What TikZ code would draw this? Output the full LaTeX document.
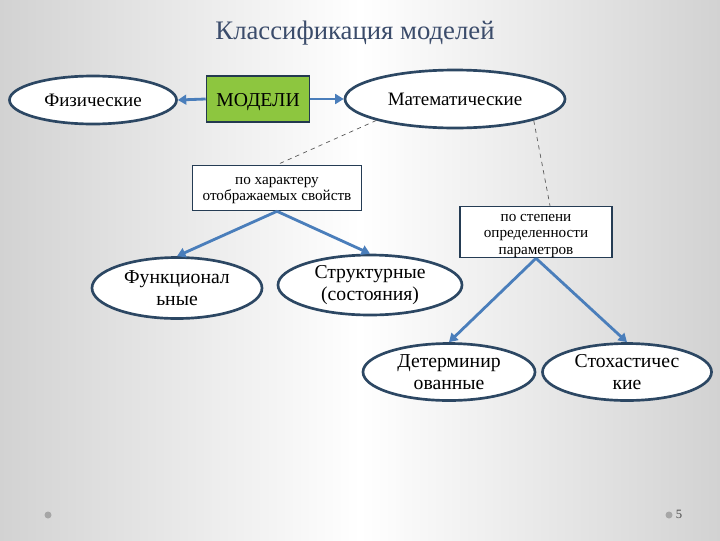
\documentclass[tikz,border=0pt]{standalone}
\usepackage{fontspec}
\setmainfont{Liberation Serif}
\usepackage{xcolor}
\usetikzlibrary{shapes.geometric, arrows.meta}

\definecolor{edgeDark}{HTML}{2C4763}
\definecolor{arrBlue}{HTML}{4A7EBB}
\definecolor{titleInk}{HTML}{3B4C6B}
\definecolor{modGreen}{HTML}{8DC63F}
\definecolor{slideGray}{HTML}{D2D2D2}

\begin{document}
\begin{tikzpicture}[x=0.025cm, y=-0.025cm,
    % ── shapes ──
    ovalNode/.style  = {ellipse, draw=edgeDark, fill=white, line width=1.9pt,
                        inner sep=0pt, align=center},
    critBox/.style   = {rectangle, draw=edgeDark!85!black, fill=white,
                        line width=1.1pt, inner sep=0pt},
    rootBox/.style   = {rectangle, draw=edgeDark!80!black, fill=modGreen,
                        line width=1.1pt, inner sep=0pt},
    % ── connectors ──
    arr/.style       = {-{Triangle[length=6pt, width=7pt]}, line width=2pt,
                        arrBlue},
    link/.style      = {dashed, gray!70!black, line width=0.5pt},
    % ── text ──
    critText/.style  = {inner sep=0pt, align=center,
                        font=\fontsize{10.8}{11.6}\selectfont},
    rootText/.style  = {inner sep=0pt, font=\fontsize{14}{15}\selectfont},
    upperText/.style = {font=\fontsize{13.5}{15}\selectfont},
    lowerText/.style = {font=\fontsize{14}{15.5}\selectfont},
]

% =====================================================================
% slide background
% =====================================================================
\useasboundingbox (0,0) rectangle (720,540);
\shade[left color=slideGray, right color=slideGray, middle color=white]
  (0,0) rectangle (720,540);

\node[font=\fontsize{19}{22}\selectfont, text=titleInk] (title)
  at (355,33) {Классификация моделей};

% =====================================================================
% top row
% =====================================================================
\node[rootBox, minimum width=103*0.025cm, minimum height=46*0.025cm] (models)
  at (258,99) {};
\node[rootText] (modelsTxt) at ([yshift=-0.08cm]models.center) {МОДЕЛИ};
\node[ovalNode, upperText, minimum width=167*0.025cm,
      minimum height=48*0.025cm] (phys) at (93,100) {Физические};
\node[ovalNode, upperText, minimum width=220*0.025cm,
      minimum height=58*0.025cm] (math) at (455,99) {Математические};

\draw[arr] (models.west) -- (phys.east);
\draw[arr] (models.east) -- (math.west);

% =====================================================================
% criteria
% =====================================================================
\node[critBox, minimum width=169*0.025cm, minimum height=45*0.025cm] (byProp)
  at (277,188) {};
\node[critText] (byPropTxt) at ([yshift=-0.07cm]byProp.center)
  {по характеру\\отображаемых свойств};
\node[critBox, minimum width=152*0.025cm, minimum height=51*0.025cm] (byCert)
  at (536,232) {};
\node[critText] (byCertTxt) at ([yshift=-0.1cm]byCert.center)
  {по степени\\определенности\\параметров};

\draw[link] (math.south west) -- (byProp.north);
\draw[link] (math.south east) -- ([xshift=0.35cm]byCert.north);

% =====================================================================
% leaves
% =====================================================================
\node[ovalNode, lowerText, minimum width=170*0.025cm,
      minimum height=61*0.025cm] (func) at (177,288) {Функционал\\ьные};
\node[ovalNode, lowerText, minimum width=184*0.025cm,
      minimum height=60*0.025cm] (struct) at (370,285) {Структурные\\(состояния)};
\node[ovalNode, lowerText, minimum width=172*0.025cm,
      minimum height=57*0.025cm] (determ) at (449,372) {Детерминир\\ованные};
\node[ovalNode, lowerText, minimum width=169*0.025cm,
      minimum height=57*0.025cm] (stoch) at (627,372) {Стохастичес\\кие};

\draw[arr] (byProp.south) -- (func.north);
\draw[arr] (byProp.south) -- (struct.north);
\draw[arr] (byCert.south) -- (determ.north);
\draw[arr] (byCert.south) -- (stoch.north);

% =====================================================================
% footer
% =====================================================================
\fill[gray!70] (48,515) circle (3.5);
\fill[gray!70] (669,515) circle (3.5);
\node[font=\fontsize{9}{10}\selectfont, text=gray!60!black] (pageNo)
  at (679,514) {5};

\end{tikzpicture}
\end{document}
